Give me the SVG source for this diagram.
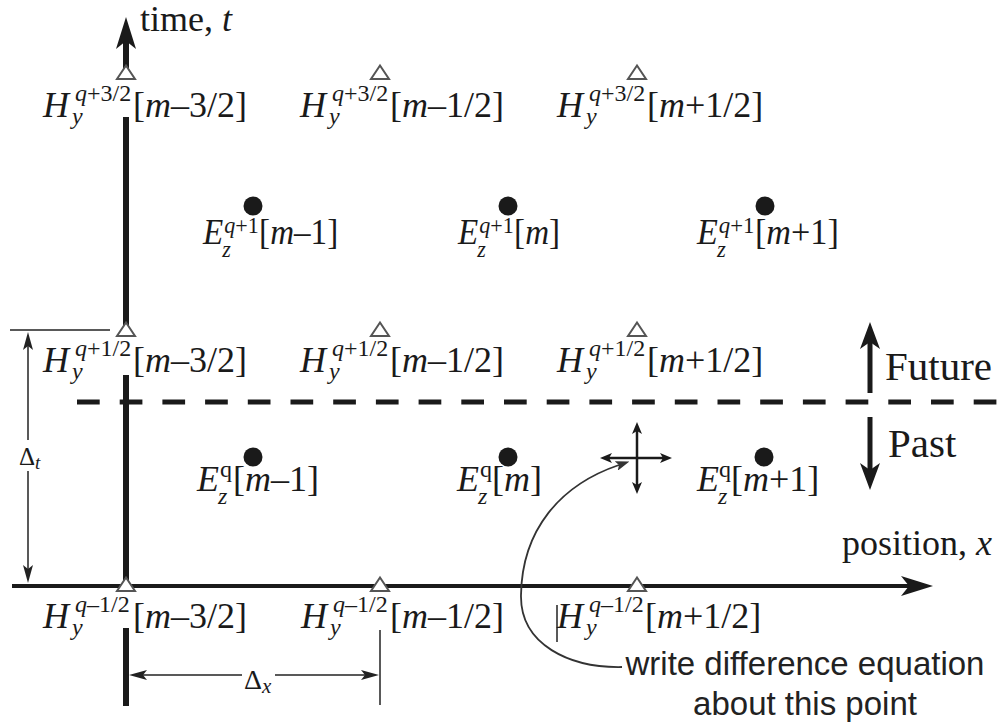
<svg xmlns="http://www.w3.org/2000/svg" width="1003" height="728" viewBox="0 0 1003 728">
<style>
text{font-family:"Liberation Serif","Times New Roman",serif;fill:#1a1a1a}
.L{font-size:36px}
.s{font-size:24px}
.i{font-style:italic}
.fp{font-size:41px}
.sans{font-family:"Liberation Sans",Arial,sans-serif;font-size:33px;fill:#222}
.d1{font-size:25px}
.d1s{font-size:19px;font-style:italic}
.d2{font-size:28px}
.d2s{font-size:21px;font-style:italic}
.thick{stroke:#1a1a1a;stroke-width:6;fill:none}
.axis{stroke:#1a1a1a;stroke-width:4;fill:none}
.fpa{stroke:#1a1a1a;stroke-width:5;fill:none}
.dash{stroke:#1a1a1a;stroke-width:5;fill:none;stroke-dasharray:22.7 20}
.thin{stroke:#222;stroke-width:1.5;fill:none}
.cross{stroke:#1a1a1a;stroke-width:2.5;fill:none}
.lead{stroke:#333;stroke-width:1.8;fill:none}
.tri{fill:#fff;stroke:#555;stroke-width:2}
.dot{fill:#1a1a1a}
</style>
<defs>
<path id="tri" d="M0,-7.5 L9,6 L-9,6 Z"/>
<marker id="aAx" viewBox="0 -10 32 20" markerWidth="32" markerHeight="20" refX="8" refY="0" orient="auto" markerUnits="userSpaceOnUse"><path d="M32,0 L0,-10 L8,0 L0,10 Z" fill="#1a1a1a"/></marker>
<marker id="aFP" viewBox="0 -10 27 20" markerWidth="27" markerHeight="20" refX="7" refY="0" orient="auto" markerUnits="userSpaceOnUse"><path d="M27,0 L0,-10 L7,0 L0,10 Z" fill="#1a1a1a"/></marker>
<marker id="aDim" viewBox="0 -5 18 10" markerWidth="18" markerHeight="10" refX="4" refY="0" orient="auto" markerUnits="userSpaceOnUse"><path d="M18,0 L0,-5 L4,0 L0,5 Z" fill="#222"/></marker>
<marker id="aCr" viewBox="0 -5 12 10" markerWidth="12" markerHeight="10" refX="3" refY="0" orient="auto" markerUnits="userSpaceOnUse"><path d="M12,0 L0,-5 L3,0 L0,5 Z" fill="#1a1a1a"/></marker>
<marker id="aLd" viewBox="0 -5 14 10" markerWidth="14" markerHeight="10" refX="3" refY="0" orient="auto" markerUnits="userSpaceOnUse"><path d="M14,0 L0,-5 L3,0 L0,5 Z" fill="#333"/></marker>
</defs>

<g id="connectors">
  <path class="thick" d="M126,72 L126,41" marker-end="url(#aAx)"/>
  <path class="thick" d="M126,117 L126,330"/>
  <path class="thick" d="M126,375 L126,586"/>
  <path class="thick" d="M126,628 L126,706"/>
  <path class="axis" d="M12,586 L909,586" marker-end="url(#aAx)"/>
  <path class="dash" d="M77,402 L1003,402"/>
  <path class="fpa" d="M870,393 L870,342" marker-end="url(#aFP)"/>
  <path class="fpa" d="M870,417 L870,470" marker-end="url(#aFP)"/>
  <path class="thin" d="M10,330 L110,330"/>
  <path class="thin" d="M28,440 L28,346" marker-end="url(#aDim)"/>
  <path class="thin" d="M28,471 L28,569" marker-end="url(#aDim)"/>
  <path class="thin" d="M380,630 L380,705"/>
  <path class="thin" d="M242,675 L143,675" marker-end="url(#aDim)"/>
  <path class="thin" d="M275,675 L365,675" marker-end="url(#aDim)"/>
  <path class="cross" d="M637,458 L637,431" marker-end="url(#aCr)"/>
  <path class="cross" d="M637,458 L637,485" marker-end="url(#aCr)"/>
  <path class="cross" d="M637,458 L609,458" marker-end="url(#aCr)"/>
  <path class="cross" d="M637,458 L663,458" marker-end="url(#aCr)"/>
  <path class="lead" d="M622,667 C570,668 520,645 521,595 C522,530 560,485 619,465" marker-end="url(#aLd)"/>
  <path class="thin" d="M557,605 L557,642"/>
</g>

<g id="labels">
  <text class="L" x="140" y="31">time, <tspan class="i">t</tspan></text>
  <text class="L" x="842" y="555">position, <tspan class="i">x</tspan></text>
  <text class="fp" x="885" y="380">Future</text>
  <text class="fp" x="888" y="457">Past</text>
  <text class="d1" x="19" y="465">Δ<tspan class="d1s" dy="4">t</tspan></text>
  <text class="d2" x="244" y="689">Δ<tspan class="d2s" dy="4">x</tspan></text>
  <text class="sans" x="805" y="675" text-anchor="middle">write difference equation</text>
  <text class="sans" x="805" y="715" text-anchor="middle">about this point</text>
</g>

<g id="H_q32_m32">
  <use href="#tri" class="tri" x="126" y="73"/>
  <text class="L"><tspan class="i" x="43" y="117">H</tspan><tspan class="s i" x="72" y="124">y</tspan><tspan class="s" x="75" y="101"><tspan class="i">q</tspan>+3/2</tspan><tspan x="133" y="117">[<tspan class="i">m</tspan>–3/2]</tspan></text>
</g>
<g id="H_q32_m12">
  <use href="#tri" class="tri" x="380" y="73"/>
  <text class="L"><tspan class="i" x="300" y="117">H</tspan><tspan class="s i" x="329" y="124">y</tspan><tspan class="s" x="332" y="101"><tspan class="i">q</tspan>+3/2</tspan><tspan x="390" y="117">[<tspan class="i">m</tspan>–1/2]</tspan></text>
</g>
<g id="H_q32_p12">
  <use href="#tri" class="tri" x="637" y="73"/>
  <text class="L"><tspan class="i" x="557" y="117">H</tspan><tspan class="s i" x="586" y="124">y</tspan><tspan class="s" x="589" y="101"><tspan class="i">q</tspan>+3/2</tspan><tspan x="647" y="117">[<tspan class="i">m</tspan>+1/2]</tspan></text>
</g>

<g id="E_q1_m1">
  <circle class="dot" cx="253" cy="206" r="9.5"/>
  <text class="L" transform="translate(203,0) scale(0.92,1) translate(-203,0)"><tspan class="i" x="203" y="244">E</tspan><tspan class="s i" x="224" y="257">z</tspan><tspan class="s" x="226" y="233"><tspan class="i">q</tspan>+1</tspan><tspan x="264" y="244">[<tspan class="i">m</tspan>–1]</tspan></text>
</g>
<g id="E_q1_m">
  <circle class="dot" cx="508" cy="206" r="9.5"/>
  <text class="L" transform="translate(458,0) scale(0.92,1) translate(-458,0)"><tspan class="i" x="458" y="244">E</tspan><tspan class="s i" x="479" y="257">z</tspan><tspan class="s" x="481" y="233"><tspan class="i">q</tspan>+1</tspan><tspan x="519" y="244">[<tspan class="i">m</tspan>]</tspan></text>
</g>
<g id="E_q1_p1">
  <circle class="dot" cx="765" cy="206" r="9.5"/>
  <text class="L" transform="translate(697,0) scale(0.95,1) translate(-697,0)"><tspan class="i" x="697" y="244">E</tspan><tspan class="s i" x="718" y="257">z</tspan><tspan class="s" x="720" y="233"><tspan class="i">q</tspan>+1</tspan><tspan x="758" y="244">[<tspan class="i">m</tspan>+1]</tspan></text>
</g>

<g id="H_q12_m32">
  <use href="#tri" class="tri" x="126" y="330"/>
  <text class="L"><tspan class="i" x="43" y="372">H</tspan><tspan class="s i" x="72" y="379">y</tspan><tspan class="s" x="75" y="356"><tspan class="i">q</tspan>+1/2</tspan><tspan x="133" y="372">[<tspan class="i">m</tspan>–3/2]</tspan></text>
</g>
<g id="H_q12_m12">
  <use href="#tri" class="tri" x="380" y="330"/>
  <text class="L"><tspan class="i" x="300" y="372">H</tspan><tspan class="s i" x="329" y="379">y</tspan><tspan class="s" x="332" y="356"><tspan class="i">q</tspan>+1/2</tspan><tspan x="390" y="372">[<tspan class="i">m</tspan>–1/2]</tspan></text>
</g>
<g id="H_q12_p12">
  <use href="#tri" class="tri" x="637" y="330"/>
  <text class="L"><tspan class="i" x="557" y="372">H</tspan><tspan class="s i" x="586" y="379">y</tspan><tspan class="s" x="589" y="356"><tspan class="i">q</tspan>+1/2</tspan><tspan x="647" y="372">[<tspan class="i">m</tspan>+1/2]</tspan></text>
</g>

<g id="E_q_m1">
  <circle class="dot" cx="253" cy="457" r="9.5"/>
  <text class="L"><tspan class="i" x="197" y="491">E</tspan><tspan class="s i" x="218" y="504">z</tspan><tspan class="s" x="220" y="477">q</tspan><tspan x="233" y="491">[<tspan class="i">m</tspan>–1]</tspan></text>
</g>
<g id="E_q_m">
  <circle class="dot" cx="508" cy="457" r="9.5"/>
  <text class="L"><tspan class="i" x="457" y="491">E</tspan><tspan class="s i" x="478" y="504">z</tspan><tspan class="s" x="480" y="477">q</tspan><tspan x="492" y="491">[<tspan class="i">m</tspan>]</tspan></text>
</g>
<g id="E_q_p1">
  <circle class="dot" cx="764" cy="457" r="9.5"/>
  <text class="L"><tspan class="i" x="697" y="491">E</tspan><tspan class="s i" x="718" y="504">z</tspan><tspan class="s" x="719" y="477">q</tspan><tspan x="731" y="491">[<tspan class="i">m</tspan>+1]</tspan></text>
</g>

<g id="H_qm12_m32">
  <use href="#tri" class="tri" x="126" y="585"/>
  <text class="L"><tspan class="i" x="43" y="628">H</tspan><tspan class="s i" x="72" y="635">y</tspan><tspan class="s" x="75" y="612"><tspan class="i">q</tspan>–1/2</tspan><tspan x="133" y="628">[<tspan class="i">m</tspan>–3/2]</tspan></text>
</g>
<g id="H_qm12_m12">
  <use href="#tri" class="tri" x="380" y="585"/>
  <text class="L"><tspan class="i" x="301" y="628">H</tspan><tspan class="s i" x="330" y="635">y</tspan><tspan class="s" x="333" y="612"><tspan class="i">q</tspan>–1/2</tspan><tspan x="390" y="628">[<tspan class="i">m</tspan>–1/2]</tspan></text>
</g>
<g id="H_qm12_p12">
  <use href="#tri" class="tri" x="637" y="585"/>
  <text class="L"><tspan class="i" x="557" y="628">H</tspan><tspan class="s i" x="586" y="635">y</tspan><tspan class="s" x="589" y="612"><tspan class="i">q</tspan>–1/2</tspan><tspan x="645" y="628">[<tspan class="i">m</tspan>+1/2]</tspan></text>
</g>
</svg>
